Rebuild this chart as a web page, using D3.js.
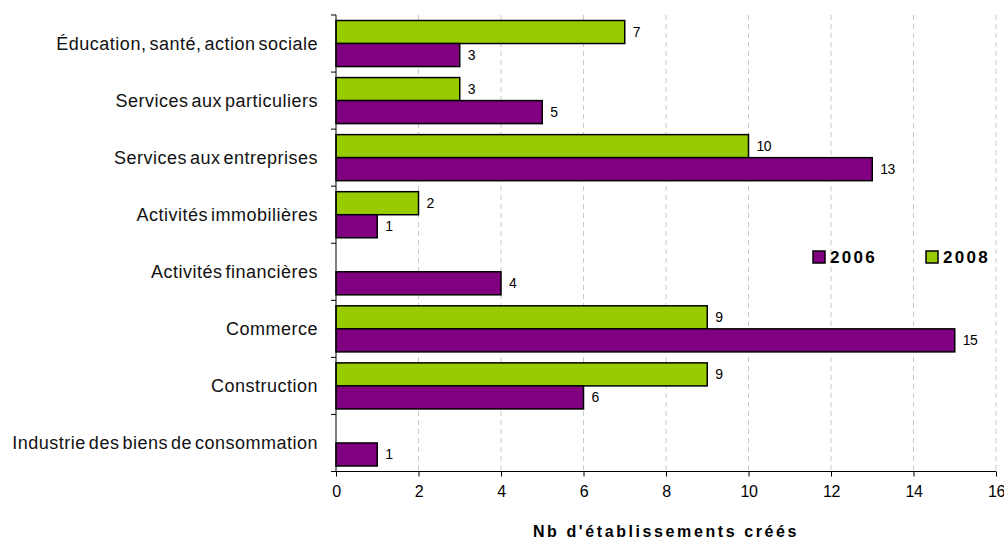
<!DOCTYPE html>
<html><head><meta charset="utf-8">
<script src="https://cdn.jsdelivr.net/npm/d3@7"></script>
<style>body{margin:0;background:#fff}svg{display:block;font-family:"Liberation Sans",Arial,sans-serif}</style>
</head><body><svg id="c" width="1004" height="540"></svg>
<script>
const categories = ["Éducation, santé, action sociale","Services aux particuliers","Services aux entreprises","Activités immobilières","Activités financières","Commerce","Construction","Industrie des biens de consommation"];
const values2008 = [7,3,10,2,null,9,9,null];
const values2006 = [3,5,13,1,4,15,6,1];
const xTicks = [0,2,4,6,8,10,12,14,16];
const seriesNames = ["2006","2008"];
const colors = {"2006":"#800080","2008":"#99CC00"};

const svg = d3.select("#c");
const L=336,R=996,T=15,B=471.5;
const x = d3.scaleLinear().domain([0,16]).range([L,R]);
const y = d3.scaleBand().domain(categories).range([T,B]).paddingInner(0).paddingOuter(0);
const bandPad = 5.5;
const sub = d3.scaleBand().domain(["2008","2006"]).range([bandPad, y.bandwidth()-bandPad]);

// grid
svg.append("g").selectAll("line").data(xTicks.filter(d=>d>0)).join("line")
  .attr("x1",d=>x(d)).attr("x2",d=>x(d)).attr("y1",T).attr("y2",B)
  .attr("stroke","#c8c8c8").attr("stroke-width",1).attr("stroke-dasharray","5,4");

const data = [];
categories.forEach((c,i)=>{
  if(values2008[i]!=null) data.push({c,s:"2008",v:values2008[i]});
  if(values2006[i]!=null) data.push({c,s:"2006",v:values2006[i]});
});
svg.append("g").selectAll("rect").data(data).join("rect")
  .attr("x",x(0)).attr("y",d=>y(d.c)+sub(d.s))
  .attr("width",d=>x(d.v)-x(0)).attr("height",sub.bandwidth())
  .attr("fill",d=>colors[d.s]).attr("stroke","#000").attr("stroke-width",1.5);
svg.append("g").selectAll("text").data(data).join("text")
  .attr("x",d=>x(d.v)+8).attr("y",d=>y(d.c)+sub(d.s)+sub.bandwidth()/2)
  .attr("dy","0.35em").attr("font-size",14).attr("letter-spacing","-0.5px").attr("fill","#000").text(d=>d.v);

// x axis
const xa = svg.append("g").attr("transform",`translate(0,${B})`)
  .call(d3.axisBottom(x).tickValues(xTicks).tickSize(5).tickPadding(9).tickSizeOuter(0));
xa.select(".domain").attr("stroke","#000").attr("d",`M${L-5},0H${R}`);
xa.selectAll("text").attr("font-size",16).attr("letter-spacing","-0.5px").attr("fill","#000")
  .attr("font-family","Liberation Sans, Arial, sans-serif");

// y axis
svg.append("line").attr("x1",L).attr("x2",L).attr("y1",T).attr("y2",B).attr("stroke","#000");
const bounds = categories.map(c=>y(c));
svg.append("g").selectAll("line").data(bounds).join("line")
  .attr("x1",L-5).attr("x2",L).attr("y1",d=>d).attr("y2",d=>d).attr("stroke","#000");
svg.append("g").selectAll("text").data(categories).join("text")
  .attr("x",318).attr("y",d=>y(d)+y.bandwidth()/2).attr("dy","0.35em")
  .attr("text-anchor","end").attr("font-size",18).attr("letter-spacing","0.5px").attr("word-spacing","-2.5px")
  .attr("fill","#111").text(d=>d);

// axis title
svg.append("text").attr("x",(L+R)/2).attr("y",537).attr("text-anchor","middle")
  .attr("font-size",16).attr("font-weight","bold").attr("letter-spacing","2.6px").text("Nb d'établissements créés");

// legend
const lg = svg.append("g");
const legPos = [{s:"2006",x:813},{s:"2008",x:926}];
legPos.forEach(p=>{
  lg.append("rect").attr("x",p.x).attr("y",251).attr("width",12).attr("height",12)
    .attr("fill",colors[p.s]).attr("stroke","#000").attr("stroke-width",1.5);
  lg.append("text").attr("x",p.x+17).attr("y",262.5).attr("font-size",17)
    .attr("font-weight","bold").attr("letter-spacing","2.3px").text(p.s);
});
</script></body></html>
